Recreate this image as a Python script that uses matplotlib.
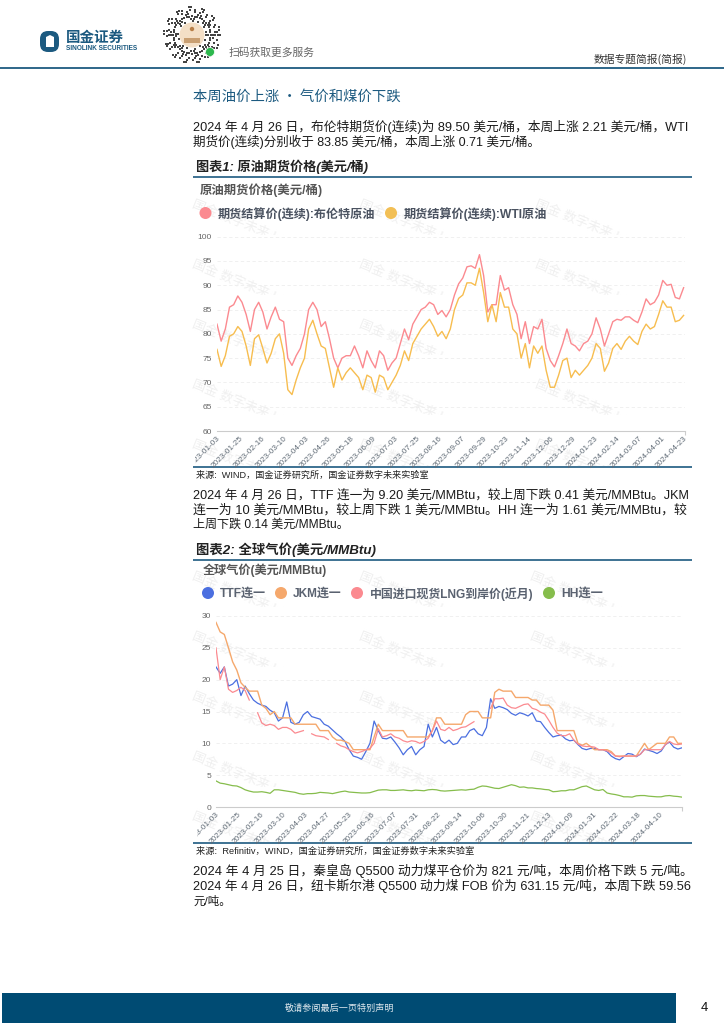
import numpy as np
import matplotlib as mpl
mpl.use("Agg")
import matplotlib.pyplot as plt
from matplotlib.patches import Circle, FancyBboxPatch, Rectangle, Polygon
from matplotlib.transforms import Bbox

plt.rcParams['font.family'] = ['Liberation Sans', 'Noto Sans CJK SC', 'DejaVu Sans']

nan = float('nan')

# 图表1, one value every 3 trading days
oil_ticks = ["2023-01-03", "2023-01-25", "2023-02-16", "2023-03-10", "2023-04-03", "2023-04-26", "2023-05-18",
             "2023-06-09", "2023-07-03", "2023-07-25", "2023-08-16", "2023-09-07", "2023-09-29", "2023-10-23",
             "2023-11-14", "2023-12-06", "2023-12-29", "2024-01-23", "2024-02-14", "2024-03-07", "2024-04-01",
             "2024-04-23"]
brent = [82, 78.5, 81, 85.5, 86, 87.8, 86.5, 84, 80.5, 85, 86.5, 84.5, 81, 83.5, 85.5, 83, 82.5, 75, 73.5, 75.5,
         77, 80, 85, 86.5, 85, 81.5, 82.5, 79, 75, 73, 75, 75.5, 75.5, 77.5, 75.5, 73, 76.5, 74.5, 73, 76.5,
         75.5, 72.5, 74, 75, 78, 81, 78.8, 82, 83.5, 85, 85.5, 86.5, 86, 84, 84.8, 83.5, 85, 88, 90.3, 91.5,
         93.8, 94, 93.5, 96.3, 92, 84.5, 86, 86, 92, 89, 89.5, 86, 84, 79, 82.5, 78, 81.5, 81, 83, 77,
         74.5, 73.2, 75.5, 78, 81, 78, 77.5, 76.5, 78, 78.5, 80, 83.3, 81, 77.5, 80, 82.5, 83, 82.8, 83.5, 83.5,
         82.8, 82.3, 84.5, 87.2, 86, 86.5, 88, 91, 90, 90.2, 87.5, 87.2, 89.5]
wti = [76.8, 73.3, 75.5, 79.5, 80, 81.5, 80.5, 77.5, 73.5, 79, 79.8, 77, 74, 76, 79, 80, 76, 68.5, 67.5, 70.5,
       73, 75, 81, 82.8, 80, 77.5, 77, 73, 69, 73, 70.5, 72, 73, 72, 71, 68.5, 71.5, 71, 68, 71.5,
       71, 68.5, 70, 71.5, 73.5, 76.5, 74.5, 78, 79.5, 81, 82, 83, 81.5, 79.5, 80.5, 79, 81, 85, 87.3, 88,
       90.5, 90.5, 90, 93.5, 88.5, 82.5, 86, 82.5, 88.5, 85.5, 85.5, 81, 80, 75, 78, 73, 77.5, 76, 77.5, 72.5,
       69, 69, 71.5, 74.5, 75, 71, 72.5, 71.5, 72.5, 73.5, 75, 78, 77, 72.3, 74, 77, 78, 76.8, 78.5, 79.5,
       78.5, 77.8, 80.5, 82, 81, 81.5, 84, 86.8, 85.5, 85.5, 82.5, 82.8, 83.8]

# 图表2, one value every 3 trading days
gas_ticks = ["2023-01-03", "2023-01-25", "2023-02-16", "2023-03-10", "2023-04-03", "2023-04-27", "2023-05-23",
             "2023-06-16", "2023-07-07", "2023-07-31", "2023-08-22", "2023-09-14", "2023-10-06", "2023-10-30",
             "2023-11-21", "2023-12-13", "2024-01-09", "2024-01-31", "2024-02-22", "2024-03-18", "2024-04-10"]
ttf = [22, 21, 22, 19, 19.3, 20, 17.5, 19, 17.8, 16.8, 16.3, 16, 15.8, 15.2, 14.8, 13.5, 14, 16.5, 13.3, 13,
       13.3, 14.5, 15, 14.2, 14, 13.8, 13, 12.7, 12.1, 11.5, 11, 10.3, 9, 8, 7.8, 7.5, 8.7, 10, 13.5, 12,
       10.8, 10.7, 11, 10.2, 9.3, 8.2, 9, 9.5, 8.2, 9, 9.5, 13, 11, 12.5, 10.5, 10, 10.5, 9.8, 10, 11,
       11, 12, 12.3, 11.5, 11.2, 12.5, 17, 15.5, 15.8, 15.6, 15.3, 14.7, 14.4, 14.8, 14.6, 14.3, 14.8, 13.5, 13.4, 12.5,
       11.7, 11, 11.2, 11.3, 10.7, 10.4, 10.5, 9.8, 9.2, 9, 9.2, 9.2, 9, 9, 8.7, 8, 7.6, 7.4, 7.9, 8.4,
       8.3, 7.9, 8.3, 9.1, 8.9, 8.7, 8.4, 8.8, 9.8, 10.2, 9.4, 9.1, 9.3]
jkm = [29, 27.5, 27.1, 25, 22.8, 21.5, 19.5, 18.8, 18.2, 18.2, 18.2, 16, 15.5, 14.5, 15, 14, 14, 14, 14, 13,
       13, 13, 13, 13, 13, 12, 12, 12, 11, 10.5, 10.5, 10.3, 10, 9, 9, 9, 9, 9, 11, 13,
       12, 12, 12, 12, 12, 12, 11, 11, 11, 11, 11, 11, 12, 14, 14, 13, 13, 13, 13, 13,
       14.5, 15, 15, 15, 14, 14, 14, 18, 18.5, 18.2, 18.2, 18.2, 17.2, 17.2, 17.2, 17.2, 16.8, 16.8, 16, 16,
       16, 15.2, 12, 12, 12, 12, 12, 10, 9.7, 10, 9.5, 9, 9, 9, 9, 8.7, 8, 8, 8, 8,
       8, 8, 9, 10, 9, 9.5, 10, 10, 10, 11, 11, 10, 10]
china_lng = [25, 20, 22, 18.5, 18, 18.3, 18.8, 18.3, 16.8, nan, 14.8, 13.2, 12.8, 13, 12.8, 12.2, 12.5, 12.5, 12.2, 11.6,
             11.8, 12, nan, 11.5, 11.2, 11.1, 11, 10.6, nan, 10, 9.6, 9.4, 9, 8.7, 8.5, 8.7, 9, 9.2, 10, 12.3,
             11, 11.2, 11.5, 11, 10.8, 10.4, 10.2, 10.4, 10.3, 10, 10.3, 10.8, 12, 13.5, 12.2, 12, 12.5, 12, 12.2, 12.5,
             12.6, 13, 13.4, nan, nan, nan, 15.5, 17, 17, 17.1, 16, 15.6, 15.5, 15.8, 16.1, 16.2, 15.5, 15.3, 14.9, 14.6,
             13.6, 12.5, 11.6, 11.2, 11.2, 11.5, 10.5, 9.9, 9.6, 9.5, 9.5, 9.4, 9, 9, 8.8, 8.5, 8, 7.9, 8, 8,
             8, 8, 8.3, 9, 9, 9, 9, 9, 9.8, 10.3, 9.9, 9.8, 9.9]
hh = [4.1, 3.75, 3.65, 3.5, 3.35, 3.3, 3.05, 2.7, 2.5, 2.35, 2.35, 2.4, 2.3, 2.15, 2.7, 2.7, 2.6, 2.5, 2.4, 2.3,
      2.1, 2.0, 2.1, 2.1, 2.15, 2.3, 2.25, 2.2, 2.1, 2.25, 2.4, 2.5, 2.35, 2.3, 2.25, 2.2, 2.2, 2.25, 2.45, 2.65,
      2.7, 2.7, 2.6, 2.6, 2.65, 2.7, 2.6, 2.55, 2.65, 2.6, 2.55, 2.7, 2.75, 2.7, 2.55, 2.5, 2.55, 2.6, 2.65, 2.7,
      2.65, 2.75, 2.8, 3.1, 3.3, 3.25, 3.1, 2.95, 2.9, 3.1, 3.3, 3.5, 3.35, 3.1, 3.15, 3.0, 3.0, 2.9, 2.85, 2.75,
      2.7, 2.4, 2.45, 2.55, 2.55, 2.7, 2.7, 2.95, 3.2, 3.3, 3.0, 2.7, 2.6, 2.75, 2.2, 2.05, 1.95, 1.8, 1.6, 1.6,
      1.55, 1.75, 1.8, 1.8, 1.7, 1.65, 1.6, 1.6, 1.75, 1.8, 1.7, 1.65, 1.55]

W, H = 724, 1024
BLUE = '#1c5a80'
fig = plt.figure(figsize=(W / 100, H / 100), dpi=100)
page = fig.add_axes([0, 0, 1, 1], zorder=0)
page.set_xlim(0, W)
page.set_ylim(H, 0)
page.axis('off')


def pt(px):
    return px * 0.72


def txt(x, y, s, size, color='#222222', **kw):
    kw.setdefault('va', 'center')
    return page.text(x, y, s, fontsize=pt(size), color=color, **kw)


def fit(x0, x1, y, s, size, color='#1a1a1a', **kw):
    # justified line: stretch the font until the string ends at x1
    t = txt(x0, y, s, size, color, **kw)
    w = t.get_window_extent(fig.canvas.get_renderer()).width
    t.set_fontsize(t.get_fontsize() * (x1 - x0) / w)
    return t


def rule(y, x0, x1, lw, color=BLUE):
    page.plot([x0, x1], [y, y], color=color, lw=lw, solid_capstyle='butt')


def chart_axes(left, right, top, bottom):
    ax = fig.add_axes([left / W, 1 - bottom / H, (right - left) / W, (bottom - top) / H], zorder=2)
    ax.patch.set_alpha(0)
    for s in ['top', 'left', 'right']:
        ax.spines[s].set_visible(False)
    ax.spines['bottom'].set_color('#cccccc')
    ax.spines['bottom'].set_linewidth(0.8)
    ax.grid(axis='y', color='#eeeeee', lw=0.6, ls=(0, (4, 3)))
    ax.set_axisbelow(True)
    ax.tick_params(axis='y', length=0, labelsize=pt(8.4), labelcolor='#666666', pad=3.6)
    return ax


def set_dates(ax, labels, n, clip_left):
    ax.set_xticks(np.arange(len(labels)) * 16)
    ax.set_xticklabels(labels, rotation=45, ha='right', rotation_mode='anchor', fontsize=pt(8.2), color='#5f6a75')
    ax.tick_params(axis='x', length=0, pad=3)
    ax.set_xticks([0, n], minor=True)
    ax.tick_params(axis='x', which='minor', length=3, color='#cccccc', width=0.8)
    ax.set_xlim(0, n)
    for lab in ax.get_xticklabels():
        lab.set_clip_box(Bbox([[clip_left, 0], [W, H]]))
        lab.set_clip_on(True)


def watermark(first_row, columns, top, bottom):
    for row in range(6):
        y = first_row + row * 60
        if y > bottom:
            break
        for x in columns:
            t = txt(x, y, "国金 数字未来 Lab", 13, '#f0f0f0', rotation=-22, rotation_mode='anchor', ha='left',
                    va='top', zorder=0.5)
            # each watermark tile cuts its text off at the lower edge
            t.set_clip_box(Bbox([[186, H - min(y + 37, bottom)], [700, H - max(y - 6, top)]]))
            t.set_clip_on(True)


# header
logo = FancyBboxPatch((40, 31), 19, 21, boxstyle="round,pad=0,rounding_size=8", fc=BLUE, ec='none')
page.add_patch(logo)
page.add_patch(Polygon([[46, 37], [50, 35], [54, 37], [54, 47], [46, 47]], fc='white', ec='none'))
fit(66, 124, 37.5, "国金证券", 14, BLUE, weight='bold', family=['Noto Sans CJK SC'])
fit(66, 137, 48.5, "SINOLINK SECURITIES", 6.3, BLUE, weight='bold')
# QR code as dotted rings
for i, r in enumerate(np.arange(14, 28, 2.3)):
    k = int(2 * np.pi * r / 2.6)
    ang = np.arange(k) * 2 * np.pi / k
    keep = (np.arange(k) * (i + 3)) % 5 < 2
    page.scatter(192 + r * np.cos(ang[keep]), 35 + r * np.sin(ang[keep]), s=2.2, marker='s', c='#444444', lw=0)
page.add_patch(Circle((192, 35), 12.5, fc='#f4dfc6', ec='none'))
page.add_patch(Rectangle((184, 38), 16, 5, fc='#c99f72', ec='none'))
page.add_patch(Circle((192, 29), 2.2, fc='#b87f48', ec='none'))
page.add_patch(Circle((210, 52), 4.5, fc='#2db84d', ec='white', lw=0.5))
fit(229, 315, 53, "扫码获取更多服务", 11, '#666666', family=['Noto Sans CJK SC'])
fit(594, 687, 59, "数据专题简报(简报)", 10, '#333333', family=['Noto Sans CJK SC'])
rule(68, 0, W, 1.3)

fit(193, 400, 97, "本周油价上涨 · 气价和煤价下跌", 14, BLUE, family=['Noto Sans CJK SC'])

# first chart text
fit(193, 689, 127, "2024 年 4 月 26 日，布伦特期货价(连续)为 89.50 美元/桶，本周上涨 2.21 美元/桶，WTI", 11)
fit(193, 541, 142, "期货价(连续)分别收于 83.85 美元/桶，本周上涨 0.71 美元/桶。", 11)
fit(196, 369, 167, "图表1: 原油期货价格(美元/桶)", 11.5, '#222222', weight='bold', style='italic')
rule(177, 193, 692, 1.2)
fit(200, 323, 190, "原油期货价格(美元/桶)", 12, '#555555', weight='bold')
page.scatter([205.5, 391], [213, 213], s=75, c=['#fb8a90', '#f2bf55'], lw=0)
fit(218, 375, 214, "期货结算价(连续):布伦特原油", 12, '#4a5260', weight='bold')
fit(404, 548, 214, "期货结算价(连续):WTI原油", 12, '#4a5260', weight='bold')
rule(467, 193, 692, 1.2)
fit(196, 428, 475, "来源:  WIND，国金证券研究所，国金证券数字未来实验室", 8, '#222222')
watermark(198, [195, 362, 538], 178, 466)

ax1 = chart_axes(217, 685, 236.7, 431)
xb = np.arange(len(brent)) * 3
ax1.plot(xb, brent, color='#fb8a90', lw=1.0)
ax1.plot(xb, wti, color='#f7bd4f', lw=1.0)
ax1.set_ylim(60, 100)
ax1.set_yticks(np.arange(60, 101, 5))
set_dates(ax1, oil_ticks, 337, 195)

# second chart text
fit(193, 687, 495, "2024 年 4 月 26 日，TTF 连一为 9.20 美元/MMBtu，较上周下跌 0.41 美元/MMBtu。JKM", 11)
fit(193, 687, 510, "连一为 10 美元/MMBtu，较上周下跌 1 美元/MMBtu。HH 连一为 1.61 美元/MMBtu，较", 11)
fit(193, 349, 525, "上周下跌 0.14 美元/MMBtu。", 11)
fit(196, 376, 550, "图表2: 全球气价(美元/MMBtu)", 11.5, '#222222', weight='bold', style='italic')
rule(560, 193, 692, 1.2)
fit(203, 328, 570, "全球气价(美元/MMBtu)", 12, '#555555', weight='bold')
page.scatter([208, 281, 357, 549], [593, 593, 593, 593], s=75, c=['#4b6fe0', '#f5a86c', '#fb8a90', '#86bd4c'], lw=0)
fit(220, 266, 594, "TTF连一", 12.3, '#5a6270', weight='bold')
fit(293, 342, 594, "JKM连一", 12.3, '#5a6270', weight='bold')
fit(370, 533, 594, "中国进口现货LNG到岸价(近月)", 12.3, '#5a6270', weight='bold')
fit(561, 603, 594, "HH连一", 12.3, '#5a6270', weight='bold')
rule(843, 193, 692, 1.2)
fit(196, 473, 851, "来源:  Refinitiv，WIND，国金证券研究所，国金证券数字未来实验室", 8, '#222222')
watermark(570, [195, 362, 533], 561, 842)

ax2 = chart_axes(216, 682, 616, 807)
xg = np.arange(len(ttf)) * 3
ax2.plot(xg, ttf, color='#4b6fe0', lw=0.9)
ax2.plot(xg, jkm, color='#f5a86c', lw=1.0)
ax2.plot(xg, china_lng, color='#fb8a90', lw=0.9)
ax2.plot(xg, hh, color='#86bd4c', lw=0.9)
ax2.set_ylim(0, 30)
ax2.set_yticks(np.arange(0, 31, 5))
set_dates(ax2, gas_ticks, 336, 197)

# closing text
fit(193, 689, 871, "2024 年 4 月 25 日，秦皇岛 Q5500 动力煤平仓价为 821 元/吨，本周价格下跌 5 元/吨。", 11)
fit(193, 689, 886, "2024 年 4 月 26 日，纽卡斯尔港 Q5500 动力煤 FOB 价为 631.15 元/吨，本周下跌 59.56", 11)
txt(193, 901, "元/吨。", 11.5, '#1a1a1a')

# footer
page.add_patch(Rectangle((2, 993), 674, 30, fc='#004b73', ec='none'))
fit(285, 394, 1008, "敬请参阅最后一页特别声明", 9, '#dfe8ee', family=['Noto Sans CJK SC'])
txt(704, 1008, "4", 13, '#111111', ha='center')

fig.savefig('out.png', dpi=100)
